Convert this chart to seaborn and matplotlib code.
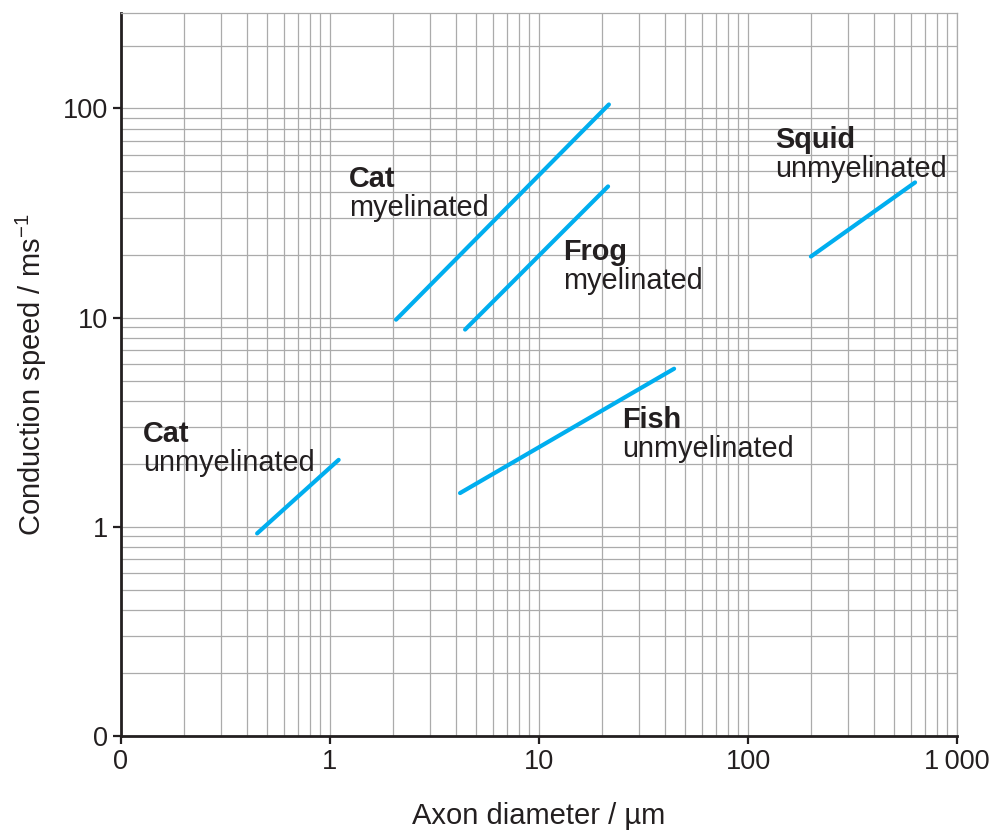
import numpy as np
import pandas as pd
import matplotlib
matplotlib.use("Agg")
import matplotlib.pyplot as plt
import seaborn as sns
from matplotlib.ticker import FixedLocator, FixedFormatter, NullFormatter

# ---- data ----
species = ["Cat myelinated", "Frog myelinated", "Squid unmyelinated",
           "Fish unmyelinated", "Cat unmyelinated"]
x_start = [2.07, 4.43, 200.0, 4.19, 0.448]
x_end = [21.6, 21.4, 630.0, 44.3, 1.10]
y_start = [9.78, 8.77, 19.6, 1.45, 0.93]
y_end = [104.5, 42.4, 44.3, 5.7, 2.09]

label_names = ["Cat", "Frog", "Squid", "Fish", "Cat"]
label_kinds = ["myelinated", "myelinated", "unmyelinated", "unmyelinated", "unmyelinated"]

x_ticks = [0.1, 1, 10, 100, 1000]
x_ticklabels = ["0", "1", "10", "100", "1\u2009000"]
y_ticks = [0.1, 1, 10, 100]
y_ticklabels = ["0", "1", "10", "100"]

# ---- style ----
sns.set_theme(style="white")
plt.rcParams["font.family"] = ["Liberation Sans", "DejaVu Sans"]
plt.rcParams["mathtext.fontset"] = "custom"
plt.rcParams["mathtext.rm"] = "Liberation Sans"
plt.rcParams["mathtext.it"] = "Liberation Sans:italic"
plt.rcParams["mathtext.bf"] = "Liberation Sans:bold"

TXT = "#231f20"
GRID = "#ababab"
LINE = "#00aeef"
FS_TICK = 19.5
FS_LAB = 21
FS_ANN = 20.8

df = pd.DataFrame({
    "species": species + species,
    "diameter": x_start + x_end,
    "speed": y_start + y_end,
})

fig = plt.figure(figsize=(9.89, 8.30), dpi=100)
ax = fig.add_axes([121 / 989, 94 / 830, 836 / 989, (736 - 12.7) / 830])

ax.set_xscale("log")
ax.set_yscale("log")
ax.set_xlim(0.1, 1000)
ax.set_ylim(0.1, 287)

# grid: major + minor
ax.grid(True, which="both", color=GRID, linewidth=0.9)
ax.set_axisbelow(True)

sns.lineplot(data=df, x="diameter", y="speed", units="species",
             estimator=None, color=LINE, linewidth=3.0, ax=ax,
             solid_capstyle="round", legend=False)

ax.xaxis.set_major_locator(FixedLocator(x_ticks))
ax.xaxis.set_major_formatter(FixedFormatter(x_ticklabels))
ax.yaxis.set_major_locator(FixedLocator(y_ticks))
ax.yaxis.set_major_formatter(FixedFormatter(y_ticklabels))
ax.xaxis.set_minor_formatter(NullFormatter())
ax.yaxis.set_minor_formatter(NullFormatter())

ax.tick_params(axis="both", which="major", direction="out", length=6, width=1.6,
               color=TXT, labelsize=FS_TICK, labelcolor=TXT, pad=3,
               bottom=True, left=True, top=False, right=False)
ax.tick_params(axis="both", which="minor", length=0)

for s in ["left", "bottom"]:
    ax.spines[s].set_color(TXT)
    ax.spines[s].set_linewidth(2.0)
for s in ["top", "right"]:
    ax.spines[s].set_color(GRID)
    ax.spines[s].set_linewidth(0.9)

ax.set_xlabel("Axon diameter / \u00b5m", fontsize=FS_LAB, color=TXT, labelpad=20)
ax.set_ylabel("Conduction speed / ms$^{\u2212 1}$", fontsize=FS_LAB, color=TXT, labelpad=10)

# ---- annotations (positions in data coords) ----
def px2data(px, py):
    xd = 10 ** (-1 + (px - 121) / 209.0)
    yd = 10 ** (-1 + (736 - py) / 209.3)
    return xd, yd

label_px = [(349, 187), (563, 260), (775, 148), (622, 428), (143, 442)]
for (px, py), name, kind in zip(label_px, label_names, label_kinds):
    x0, y0 = px2data(px, py)
    x1, y1 = px2data(px, py + 29)
    ax.text(x0, y0, name, fontsize=FS_ANN, fontweight="bold", color=TXT,
            ha="left", va="baseline")
    ax.text(x1, y1, kind, fontsize=FS_ANN, color=TXT, ha="left", va="baseline")

fig.savefig("out.png", dpi=100)
